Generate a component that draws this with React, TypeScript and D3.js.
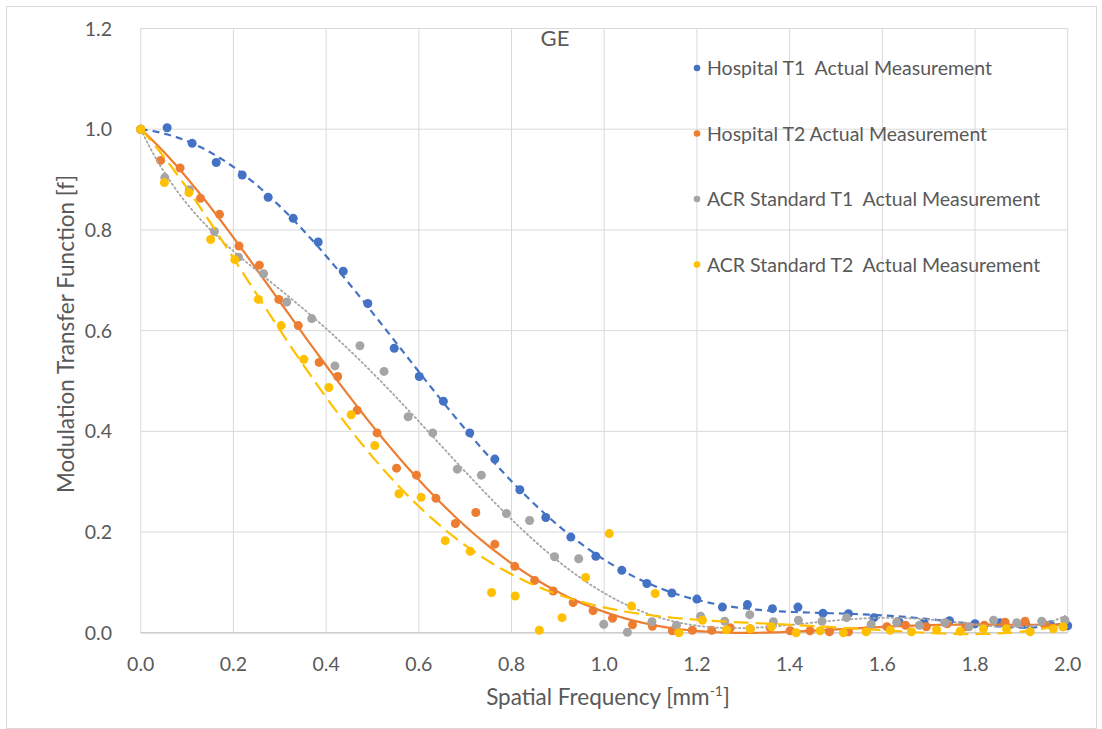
import { useEffect, useRef } from "react"
import * as d3 from "d3"

// Hospital T1 (blue)
const t1HospX = [0, 0.057, 0.111, 0.163, 0.219, 0.275, 0.329, 0.383, 0.437, 0.49, 0.547, 0.601, 0.653, 0.71, 0.764, 0.818, 0.874, 0.928, 0.982, 1.038, 1.092, 1.146, 1.2, 1.255, 1.309, 1.363, 1.418, 1.472, 1.527, 1.582, 1.636, 1.69, 1.745, 1.8, 1.854, 1.909, 1.963, 2.0]
const t1HospY = [1.0, 1.003, 0.972, 0.934, 0.909, 0.865, 0.823, 0.776, 0.718, 0.654, 0.565, 0.509, 0.46, 0.397, 0.345, 0.284, 0.229, 0.19, 0.152, 0.124, 0.098, 0.079, 0.067, 0.051, 0.056, 0.048, 0.051, 0.039, 0.038, 0.03, 0.022, 0.02, 0.024, 0.018, 0.02, 0.017, 0.016, 0.014]

// Hospital T2 (orange)
const t2HospX = [0, 0.043, 0.085, 0.129, 0.17, 0.212, 0.256, 0.298, 0.34, 0.385, 0.425, 0.467, 0.51, 0.552, 0.595, 0.637, 0.679, 0.723, 0.764, 0.807, 0.85, 0.89, 0.933, 0.976, 1.018, 1.061, 1.104, 1.147, 1.19, 1.232, 1.272, 1.315, 1.358, 1.401, 1.444, 1.486, 1.527, 1.566, 1.61, 1.65, 1.695, 1.74, 1.78, 1.82, 1.865, 1.908, 1.95, 1.99]
const t2HospY = [1.0, 0.938, 0.923, 0.863, 0.831, 0.768, 0.73, 0.662, 0.61, 0.537, 0.509, 0.442, 0.397, 0.327, 0.313, 0.267, 0.217, 0.239, 0.176, 0.132, 0.104, 0.083, 0.06, 0.044, 0.029, 0.016, 0.013, 0.004, 0.005, 0.005, 0.01, 0.008, 0.01, 0.004, 0.004, 0.002, 0.002, 0.004, 0.012, 0.015, 0.012, 0.018, 0.012, 0.015, 0.021, 0.023, 0.016, 0.012]

// ACR Standard T1 (gray)
const t1AcrX = [0, 0.052, 0.105, 0.159, 0.211, 0.265, 0.315, 0.369, 0.419, 0.473, 0.525, 0.577, 0.63, 0.683, 0.735, 0.789, 0.839, 0.893, 0.945, 0.999, 1.05, 1.103, 1.156, 1.208, 1.26, 1.314, 1.365, 1.419, 1.47, 1.523, 1.576, 1.631, 1.68, 1.735, 1.787, 1.84, 1.89, 1.944, 1.994]
const t1AcrY = [1.0, 0.904, 0.88, 0.797, 0.746, 0.713, 0.657, 0.624, 0.53, 0.57, 0.519, 0.429, 0.397, 0.325, 0.313, 0.237, 0.223, 0.151, 0.147, 0.017, 0.001, 0.022, 0.015, 0.033, 0.023, 0.036, 0.022, 0.025, 0.023, 0.03, 0.017, 0.021, 0.015, 0.02, 0.012, 0.025, 0.02, 0.023, 0.025]

// ACR Standard T2 (yellow)
const t2AcrX = [0, 0.051, 0.104, 0.151, 0.203, 0.254, 0.303, 0.352, 0.406, 0.454, 0.505, 0.557, 0.605, 0.657, 0.711, 0.757, 0.808, 0.86, 0.909, 0.96, 1.011, 1.059, 1.11, 1.161, 1.212, 1.264, 1.315, 1.361, 1.414, 1.466, 1.516, 1.565, 1.617, 1.663, 1.717, 1.768, 1.818, 1.868, 1.919, 1.969, 1.99]
const t2AcrY = [1.0, 0.894, 0.874, 0.781, 0.741, 0.662, 0.61, 0.543, 0.487, 0.433, 0.372, 0.276, 0.269, 0.183, 0.162, 0.08, 0.073, 0.005, 0.03, 0.11, 0.197, 0.053, 0.078, 0.0, 0.025, 0.006, 0.008, 0.012, 0.0, 0.004, 0.0, 0.002, 0.005, 0.002, 0.006, 0.003, 0.008, 0.008, 0.002, 0.008, 0.012]

const seriesNames = [
  "Hospital T1  Actual Measurement",
  "Hospital T2 Actual Measurement",
  "ACR Standard T1  Actual Measurement",
  "ACR Standard T2  Actual Measurement",
]
const seriesColors = ["#4472C4", "#ED7D31", "#A5A5A5", "#FFC000"]
const xTicks = [0, 0.2, 0.4, 0.6, 0.8, 1.0, 1.2, 1.4, 1.6, 1.8, 2.0]
const yTicks = [0, 0.2, 0.4, 0.6, 0.8, 1.0, 1.2]

// least-squares polynomial trendline with the intercept fixed at 1 (y = 1 + c1 x + ... + cd x^d)
function polyFit(xs: number[], ys: number[], deg: number) {
  const n = deg
  const A: number[][] = Array.from({ length: n }, () => new Array(n + 1).fill(0))
  xs.forEach((x, k) => {
    const p: number[] = []
    for (let i = 1; i <= n; i++) p.push(Math.pow(x, i))
    for (let i = 0; i < n; i++) {
      for (let j = 0; j < n; j++) A[i][j] += p[i] * p[j]
      A[i][n] += p[i] * (ys[k] - 1)
    }
  })
  for (let c = 0; c < n; c++) {
    let piv = c
    for (let r = c + 1; r < n; r++) if (Math.abs(A[r][c]) > Math.abs(A[piv][c])) piv = r
    ;[A[c], A[piv]] = [A[piv], A[c]]
    for (let r = 0; r < n; r++) {
      if (r === c) continue
      const f = A[r][c] / A[c][c]
      for (let k = c; k <= n; k++) A[r][k] -= f * A[c][k]
    }
  }
  const coef = A.map((row, i) => row[n] / row[i])
  return (x: number) => 1 + coef.reduce((s, c, i) => s + c * Math.pow(x, i + 1), 0)
}

const FONT = "Lato, 'Open Sans', sans-serif"

export default function App() {
  const svgRef = useRef<SVGSVGElement>(null)
  const width = 1102
  const height = 729

  useEffect(() => {
    document.body.style.margin = "0"
    const svg = d3.select(svgRef.current)
    svg.selectAll("*").remove()

    svg.append("rect").attr("x", 0).attr("y", 0).attr("width", width).attr("height", height).attr("fill", "#fff")
    svg.append("rect").attr("x", 6.5).attr("y", 6.5).attr("width", 1090).attr("height", 722)
      .attr("fill", "none").attr("stroke", "#d9d9d9").attr("stroke-width", 1)

    const x = d3.scaleLinear().domain([0, 2]).range([140.7, 1067.7])
    const y = d3.scaleLinear().domain([0, 1.2]).range([632.8, 28.5])

    const g = svg.append("g")

    // gridlines
    g.selectAll(".hg").data(yTicks.slice(1)).enter().append("line")
      .attr("x1", x(0)).attr("x2", x(2)).attr("y1", (d) => y(d)).attr("y2", (d) => y(d))
      .attr("stroke", "#d9d9d9").attr("stroke-width", 1)
    g.selectAll(".vg").data(xTicks).enter().append("line")
      .attr("x1", (d) => x(d)).attr("x2", (d) => x(d)).attr("y1", y(0)).attr("y2", y(1.2))
      .attr("stroke", "#d9d9d9").attr("stroke-width", 1)
    g.append("line").attr("x1", x(0)).attr("x2", x(2)).attr("y1", y(0)).attr("y2", y(0))
      .attr("stroke", "#bfbfbf").attr("stroke-width", 1.2)

    // tick labels
    g.selectAll(".yl").data(yTicks).enter().append("text")
      .attr("x", 112).attr("y", (d) => y(d) + 7).attr("text-anchor", "end")
      .attr("font-family", FONT).attr("font-size", 19.5).attr("fill", "#595959")
      .text((d) => d.toFixed(1))
    g.selectAll(".xl").data(xTicks).enter().append("text")
      .attr("x", (d) => x(d)).attr("y", 671).attr("text-anchor", "middle")
      .attr("font-family", FONT).attr("font-size", 19.5).attr("fill", "#595959")
      .text((d) => d.toFixed(1))

    // axis titles
    const xt = svg.append("text").attr("x", 608).attr("y", 705).attr("text-anchor", "middle")
      .attr("font-family", FONT).attr("font-size", 22.5).attr("fill", "#595959")
    xt.append("tspan").text("Spatial Frequency [mm")
    xt.append("tspan").attr("font-size", 14).attr("dy", -9).text("-1")
    xt.append("tspan").attr("dy", 9).text("]")
    svg.append("text").attr("transform", "translate(74,334) rotate(-90)").attr("text-anchor", "middle")
      .attr("font-family", FONT).attr("font-size", 22.5).attr("fill", "#595959")
      .text("Modulation Transfer Function [f]")

    svg.append("text").attr("x", 555).attr("y", 46).attr("text-anchor", "middle")
      .attr("font-family", FONT).attr("font-size", 22).attr("fill", "#595959").text("GE")

    const sets = [
      { xs: t1HospX, ys: t1HospY, dash: "7,5", w: 2.2 },
      { xs: t2HospX, ys: t2HospY, dash: null, w: 2.2 },
      { xs: t1AcrX, ys: t1AcrY, dash: "1.5,3", w: 1.8 },
      { xs: t2AcrX, ys: t2AcrY, dash: "15,7", w: 2.2 },
    ]

    const line = d3.line<[number, number]>().x((d) => x(d[0])).y((d) => y(d[1]))

    sets.forEach((s, i) => {
      const pts = s.xs.map((v, k) => [v, s.ys[k]] as [number, number])
      g.selectAll(`.p${i}`).data(pts).enter().append("circle")
        .attr("cx", (d) => x(d[0])).attr("cy", (d) => y(d[1])).attr("r", 4.5)
        .attr("fill", seriesColors[i])
      const f = polyFit(s.xs, s.ys, 6)
      const xmax = d3.max(s.xs) as number
      const curve = d3.range(0, 201).map((k) => {
        const xv = (xmax * k) / 200
        return [xv, f(xv)] as [number, number]
      })
      g.append("path").attr("d", line(curve)).attr("fill", "none")
        .attr("stroke", seriesColors[i]).attr("stroke-width", s.w)
        .attr("stroke-dasharray", s.dash)
        .attr("stroke-linecap", i === 2 ? "round" : "butt")
    })

    // legend
    const legend = svg.append("g")
    seriesNames.forEach((name, i) => {
      const ly = 68 + i * 65.5
      legend.append("circle").attr("cx", 697).attr("cy", ly).attr("r", 3.3).attr("fill", seriesColors[i])
      legend.append("text").attr("x", 707).attr("y", ly + 7).attr("font-family", FONT)
        .attr("font-size", 19.5).attr("fill", "#595959").style("white-space", "pre").text(name)
    })
  }, [])

  return <svg ref={svgRef} width={width} height={height} style={{ display: "block" }} />
}
